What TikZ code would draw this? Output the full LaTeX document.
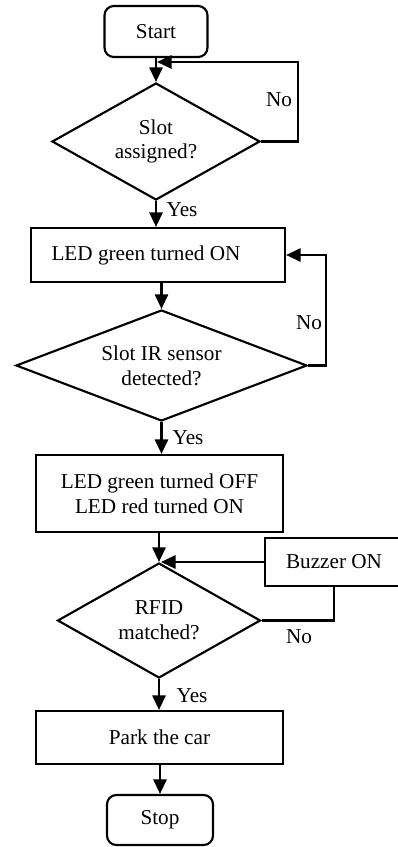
\documentclass[tikz,border=0pt]{standalone}
\usepackage{fontspec}
\setmainfont{Liberation Serif}
\usetikzlibrary{shapes.geometric,arrows.meta}

\begin{document}
\begin{tikzpicture}[x=0.75pt,y=-0.75pt,
  font=\fontsize{15.9}{18.5}\selectfont,
  line width=1.6pt,
  arr/.style={-{Triangle[length=11pt,width=10pt]}},
  term/.style={draw,rounded corners=7pt,inner sep=0pt,align=center},
  proc/.style={draw,inner sep=0pt,align=center},
  decide/.style={draw,diamond,inner sep=0pt,align=center},
  lbl/.style={inner sep=0pt}]
\useasboundingbox (0,0) rectangle (398,847);

% terminals, processes and decisions
\node[term,minimum width=103*0.75pt,minimum height=51*0.75pt] (start) at (156,31.5) {Start};
\node[decide,shape aspect=1.78,minimum width=208*0.75pt,minimum height=117*0.75pt] (d1) at (156,141.5) {Slot\\assigned?};
\node[proc,minimum width=254*0.75pt,minimum height=54*0.75pt] (ledon) at (158,255) {LED green turned ON\hspace*{18pt}};
\node[decide,shape aspect=2.6,minimum width=291*0.75pt,minimum height=111*0.75pt] (d2) at (161.5,365.5) {Slot IR sensor\\detected?};
\node[proc,minimum width=247*0.75pt,minimum height=77*0.75pt] (ledred) at (159.5,493.5) {LED green turned OFF\\LED red turned ON};
\node[proc,minimum width=138*0.75pt,minimum height=48*0.75pt] (buzz) at (334,562) {Buzzer ON};
\node[decide,shape aspect=1.77,minimum width=203*0.75pt,minimum height=115*0.75pt] (d3) at (159,620.5) {RFID\\matched?};
\node[proc,minimum width=247*0.75pt,minimum height=53*0.75pt] (park) at (159.5,737.5) {Park the car};
\node[term,minimum width=106*0.75pt,minimum height=50*0.75pt] (stop) at (160,820) {Stop};

% joins on the main line
\coordinate (j1) at (157,62);
\coordinate (j3) at (161,562);

% main flow
\draw[arr] (start.south) -- (d1.north);
\draw[arr] (d1.south) -- (d1.south |- ledon.north);
\draw[arr] (d2.north |- ledon.south) -- (d2.north);
\draw[arr] (d2.south) -- (d2.south |- ledred.north);
\draw[arr] (d3.north |- ledred.south) -- (d3.north);
\draw[arr] (d3.south) -- (d3.south |- park.north);
\draw[arr] (stop.north |- park.south) -- (stop.north);

% loops back
\draw[arr] (d1.east) -- (298,141.5) |- (j1);
\draw[arr] (d2.east) -- (326,365.5) |- (ledon.east);
\draw[arr] (buzz.west) -- (j3);
\draw (d3.east) -| (buzz.south);

% branch labels
\node[lbl] (n1) at (279,100) {No};
\node[lbl] (y1) at (182,210) {Yes};
\node[lbl] (n2) at (309,323) {No};
\node[lbl] (y2) at (188,438) {Yes};
\node[lbl] (n3) at (299,637) {No};
\node[lbl] (y3) at (192,696) {Yes};
\end{tikzpicture}
\end{document}
